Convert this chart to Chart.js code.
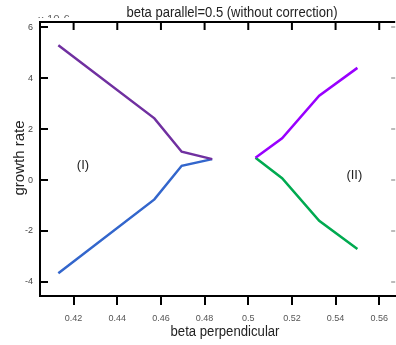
<!DOCTYPE html>
<html>
<head>
<meta charset="utf-8">
<script src="https://cdn.jsdelivr.net/npm/chart.js@4.4.1/dist/chart.umd.min.js"></script>
<style>
  body { margin: 0; background: #fff; }
  canvas { display: block; }
</style>
</head>
<body>
<canvas id="chart" width="396" height="345"></canvas>
<script>
// branch (I): two roots to the left of the gap
var xLeft      = [0.413, 0.457, 0.4695, 0.4835];
var upperLeft  = [5.29, 2.42, 1.11, 0.82];
var lowerLeft  = [-3.66, -0.76, 0.56, 0.82];
// branch (II): two roots to the right of the gap
var xRight     = [0.5033, 0.5155, 0.5325, 0.55];
var upperRight = [0.87, 1.64, 3.31, 4.40];
var lowerRight = [0.87, 0.07, -1.60, -2.71];

var xTicks = [0.42, 0.44, 0.46, 0.48, 0.5, 0.52, 0.54, 0.56];
var yTicks = [-4, -2, 0, 2, 4, 6];

var regionNames = ['(I)', '(II)'];
var regionX = [0.4243, 0.5486];
var regionY = [0.57, 0.18];

var FONT = "'Liberation Sans', Arial, sans-serif";

function pts(xs, ys) {
    return xs.map(function(x, i) { return { x: x, y: ys[i] }; });
}

// draws text squeezed to a given width (the original uses a narrow font)
function fitText(ctx, str, cx, cy, size, width, rotate) {
    ctx.save();
    ctx.font = size + 'px ' + FONT;
    ctx.textAlign = 'center';
    ctx.textBaseline = 'middle';
    var w = ctx.measureText(str).width;
    var k = width ? width / w : 1;
    ctx.translate(cx, cy);
    if (rotate) ctx.rotate(-Math.PI / 2);
    ctx.scale(k, 1);
    ctx.fillText(str, 0, 0);
    ctx.restore();
}

var framePlugin = {
    id: 'frame',
    afterDraw: function(chart) {
        var ctx = chart.ctx;
        var a = chart.chartArea;
        var sx = chart.scales.x, sy = chart.scales.y;
        ctx.save();
        ctx.strokeStyle = '#000';
        ctx.lineWidth = 2;
        ctx.beginPath();
        ctx.moveTo(a.left - 1, a.top);
        ctx.lineTo(a.right, a.top);
        xTicks.forEach(function(v) {
            var px = sx.getPixelForValue(v);
            ctx.moveTo(px, a.top);
            ctx.lineTo(px, a.top + 8);
        });
        yTicks.forEach(function(v) {
            var py = sy.getPixelForValue(v);
            ctx.moveTo(a.left, py);
            ctx.lineTo(a.left + 8, py);
        });
        ctx.stroke();
        ctx.strokeStyle = '#bbb';
        ctx.beginPath();
        yTicks.forEach(function(v) {
            var py = sy.getPixelForValue(v);
            ctx.moveTo(a.right - 4, py);
            ctx.lineTo(a.right, py);
        });
        ctx.stroke();

        ctx.fillStyle = '#222';
        regionNames.forEach(function(t, i) {
            fitText(ctx, t, sx.getPixelForValue(regionX[i]), sy.getPixelForValue(regionY[i]), 13, 0, false);
        });

        fitText(ctx, 'beta parallel=0.5 (without correction)', 232, 13, 14, 211, false);
        fitText(ctx, 'beta perpendicular', 225, 332, 14, 109, false);
        fitText(ctx, 'growth rate', 20, 158, 14, 75, true);

        // exponent label, mostly hidden behind the frame like in the original
        ctx.beginPath();
        ctx.rect(30, 0, 60, 18);
        ctx.clip();
        ctx.fillStyle = '#666';
        fitText(ctx, 'x 10-6', 54, 20, 10, 32, false);
        ctx.restore();
    }
};

var ctx = document.getElementById('chart').getContext('2d');
var chart = new Chart(ctx, {
    type: 'scatter',
    data: {
        datasets: [
            { data: pts(xLeft, upperLeft), borderColor: '#7030a0' },
            { data: pts(xLeft, lowerLeft), borderColor: '#3366cc' },
            { data: pts(xRight, upperRight), borderColor: '#9900ff' },
            { data: pts(xRight, lowerRight), borderColor: '#00aa50' }
        ]
    },
    options: {
        responsive: false,
        animation: false,
        showLine: true,
        layout: { padding: { top: 22, left: 0, right: 0, bottom: 0 } },
        elements: {
            point: { radius: 0 },
            line: { borderWidth: 2.5, tension: 0 }
        },
        plugins: {
            legend: { display: false },
            title: { display: false },
            tooltip: { enabled: false }
        },
        scales: {
            x: {
                type: 'linear',
                min: 0.4046,
                max: 0.5673,
                afterFit: function(s) { s.height = 49; },
                afterBuildTicks: function(s) {
                    s.ticks = xTicks.map(function(v) { return { value: v }; });
                },
                grid: { drawOnChartArea: false, drawTicks: true, tickLength: 9, color: '#000', lineWidth: 2 },
                border: { color: '#000', width: 2 },
                ticks: {
                    padding: 8,
                    autoSkip: false,
                    maxRotation: 0,
                    color: '#555',
                    font: { size: 9, family: FONT },
                    callback: function(v) { return String(+v.toFixed(2)); }
                }
            },
            y: {
                min: -4.55,
                max: 6.2,
                afterFit: function(s) { s.width = 40; },
                afterBuildTicks: function(s) {
                    s.ticks = yTicks.map(function(v) { return { value: v }; });
                },
                grid: { drawOnChartArea: false, drawTicks: false },
                border: { color: '#000', width: 2 },
                ticks: {
                    padding: 7,
                    color: '#444',
                    font: { size: 9, family: FONT }
                }
            }
        }
    },
    plugins: [framePlugin]
});
</script>
</body>
</html>
